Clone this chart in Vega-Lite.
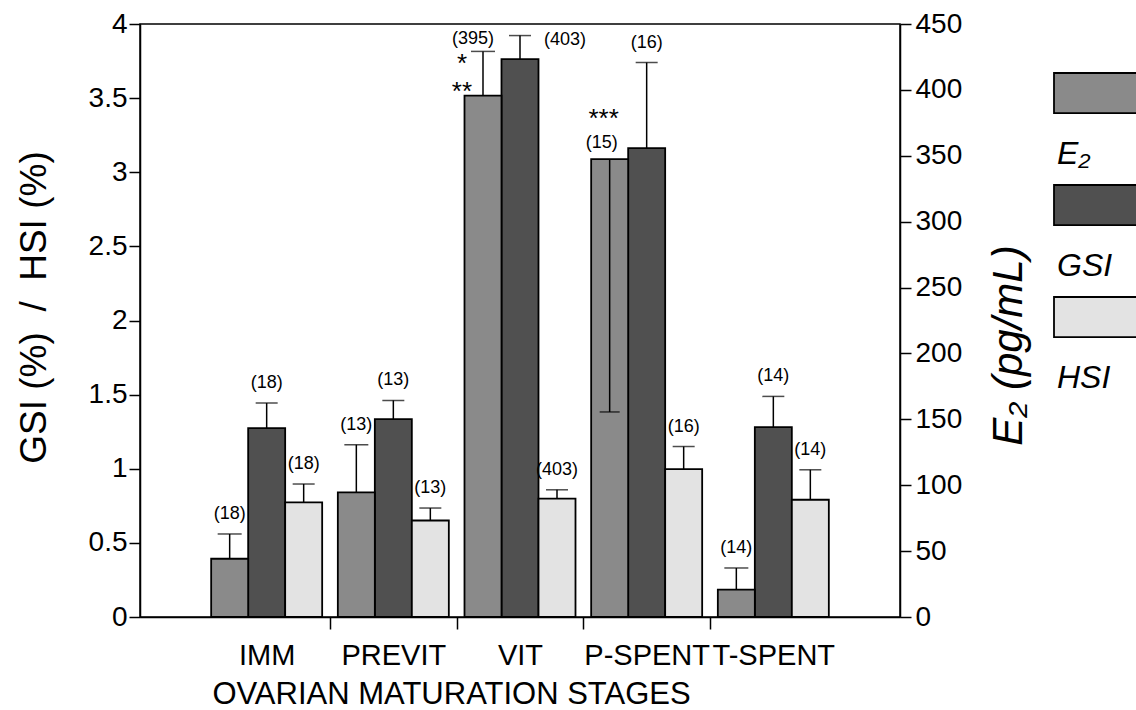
{
  "$schema": "https://vega.github.io/schema/vega-lite/v6.json",
  "width": 760,
  "height": 593,
  "autosize": {"type": "none"},
  "padding": {"left": 140, "top": 24, "right": 236, "bottom": 93},
  "background": "white",
  "config": {
    "view": {"stroke": "black", "strokeWidth": 1.5},
    "font": "Liberation Sans",
    "axis": {"domainColor": "black", "domainWidth": 1.5, "tickColor": "black", "tickWidth": 1.5, "labelColor": "black", "titleColor": "black", "grid": false, "labelFontSize": 28, "titleFontWeight": "normal", "labelFont": "Liberation Sans", "titleFont": "Liberation Sans"}
  },
  "datasets": {
    "bars": [
      {"stage": "IMM", "series": "E₂", "value": 44.2, "hi": 63.0, "lo": null, "n": "(18)"},
      {"stage": "IMM", "series": "GSI", "value": 1.274, "hi": 1.443, "lo": null, "n": "(18)"},
      {"stage": "IMM", "series": "HSI", "value": 0.773, "hi": 0.897, "lo": null, "n": "(18)"},
      {"stage": "PREVIT", "series": "E₂", "value": 94.6, "hi": 130.7, "lo": null, "n": "(13)"},
      {"stage": "PREVIT", "series": "GSI", "value": 1.335, "hi": 1.461, "lo": null, "n": "(13)"},
      {"stage": "PREVIT", "series": "HSI", "value": 0.651, "hi": 0.735, "lo": null, "n": "(13)"},
      {"stage": "VIT", "series": "E₂", "value": 395.6, "hi": 429.2, "lo": null, "n": "(395)"},
      {"stage": "VIT", "series": "GSI", "value": 3.763, "hi": 3.922, "lo": null, "n": "(403)"},
      {"stage": "VIT", "series": "HSI", "value": 0.798, "hi": 0.858, "lo": null, "n": "(403)"},
      {"stage": "P-SPENT", "series": "E₂", "value": 347.5, "hi": null, "lo": 155.6, "n": "(15)"},
      {"stage": "P-SPENT", "series": "GSI", "value": 3.163, "hi": 3.74, "lo": null, "n": "(16)"},
      {"stage": "P-SPENT", "series": "HSI", "value": 0.998, "hi": 1.15, "lo": null, "n": "(16)"},
      {"stage": "T-SPENT", "series": "E₂", "value": 20.7, "hi": 37.2, "lo": null, "n": "(14)"},
      {"stage": "T-SPENT", "series": "GSI", "value": 1.281, "hi": 1.488, "lo": null, "n": "(14)"},
      {"stage": "T-SPENT", "series": "HSI", "value": 0.791, "hi": 0.993, "lo": null, "n": "(14)"}
    ],
    "stars": [
      {"stage": "VIT", "series": "E₂", "level": 424.6, "star": "*"},
      {"stage": "VIT", "series": "E₂", "level": 403.4, "star": "**"},
      {"stage": "P-SPENT", "series": "E₂", "level": 383.0, "star": "***"}
    ]
  },
  "data": {"name": "bars"},
  "encoding": {
    "x": {
      "field": "stage", "type": "nominal",
      "sort": ["IMM", "PREVIT", "VIT", "P-SPENT", "T-SPENT"],
      "scale": {"paddingInner": 0, "paddingOuter": 0.5},
      "axis": {
        "title": "OVARIAN MATURATION STAGES",
        "labelAngle": 0, "labelFontSize": 29, "labelPadding": 12, "labelOverlap": false, "labelLimit": 0,
        "tickSize": 12, "tickOffset": 63.33, "labelOffset": -63.33,
        "tickOpacity": {"condition": {"test": "datum.value === 'T-SPENT'", "value": 0}, "value": 1},
        "titleFontSize": 31, "titleX": 311, "titleY": 86, "titleBaseline": "alphabetic", "titleAlign": "center"
      }
    },
    "xOffset": {
      "field": "series", "type": "nominal",
      "scale": {"domain": ["E₂", "GSI", "HSI"], "paddingInner": 0, "paddingOuter": 0.2117}
    }
  },
  "layer": [
    {
      "transform": [{"filter": "datum.series !== 'E₂'"}],
      "layer": [
        {
          "mark": {"type": "bar", "stroke": "black", "strokeWidth": 1.8},
          "encoding": {
            "y": {
              "field": "value", "type": "quantitative",
              "scale": {"domain": [0, 4], "nice": false},
              "axis": {"orient": "left", "title": "GSI (%)\u00a0\u00a0/\u00a0\u00a0HSI (%)", "values": [0, 0.5, 1, 1.5, 2, 2.5, 3, 3.5, 4], "format": "~g", "tickSize": 11, "labelPadding": 2, "titleFontSize": 37, "titleAngle": -90, "titleX": -106, "titleY": 283, "titleBaseline": "middle", "titleAlign": "center"}
            },
            "fill": {
              "field": "series", "type": "nominal",
              "scale": {"domain": ["E₂", "GSI", "HSI"], "range": ["#8a8a8a", "#505050", "#e3e3e3"]},
              "legend": {
                "orient": "none", "legendX": 913, "legendY": 84, "title": null,
                "symbolType": "M-1,-1.8L1,-1.8L1,-0.91L-1,-0.91Z", "symbolSize": 8100,
                "symbolStrokeColor": "black", "symbolStrokeWidth": 1.8,
                "labelFontSize": 32, "labelFontStyle": "italic", "labelOffset": -88,
                "rowPadding": 11, "labelLimit": 0, "labelColor": "black", "padding": 0
              }
            }
          }
        },
        {
          "mark": {"type": "rule", "strokeWidth": 1.5, "color": "black"},
          "encoding": {
            "y": {"field": "value", "type": "quantitative", "scale": {"domain": [0, 4], "nice": false},
              "axis": {"orient": "left", "title": "GSI (%)\u00a0\u00a0/\u00a0\u00a0HSI (%)", "values": [0, 0.5, 1, 1.5, 2, 2.5, 3, 3.5, 4], "format": "~g", "tickSize": 11, "labelPadding": 2, "titleFontSize": 37, "titleAngle": -90, "titleX": -106, "titleY": 283, "titleBaseline": "middle", "titleAlign": "center"}},
            "y2": {"field": "hi"}
          }
        },
        {
          "mark": {"type": "tick", "color": "black", "thickness": 1.5, "size": 22, "orient": "horizontal"},
          "encoding": {
            "y": {"field": "hi", "type": "quantitative", "scale": {"domain": [0, 4], "nice": false},
              "axis": {"orient": "left", "title": "GSI (%)\u00a0\u00a0/\u00a0\u00a0HSI (%)", "values": [0, 0.5, 1, 1.5, 2, 2.5, 3, 3.5, 4], "format": "~g", "tickSize": 11, "labelPadding": 2, "titleFontSize": 37, "titleAngle": -90, "titleX": -106, "titleY": 283, "titleBaseline": "middle", "titleAlign": "center"}}
          }
        },
        {
          "transform": [{"filter": "!(datum.stage === 'VIT' && datum.series === 'GSI')"}],
          "mark": {"type": "text", "fontSize": 18, "dy": -20, "color": "black", "baseline": "middle"},
          "encoding": {
            "y": {"field": "hi", "type": "quantitative", "scale": {"domain": [0, 4], "nice": false},
              "axis": {"orient": "left", "title": "GSI (%)\u00a0\u00a0/\u00a0\u00a0HSI (%)", "values": [0, 0.5, 1, 1.5, 2, 2.5, 3, 3.5, 4], "format": "~g", "tickSize": 11, "labelPadding": 2, "titleFontSize": 37, "titleAngle": -90, "titleX": -106, "titleY": 283, "titleBaseline": "middle", "titleAlign": "center"}},
            "text": {"field": "n"}
          }
        },
        {
          "transform": [{"filter": "datum.stage === 'VIT' && datum.series === 'GSI'"}],
          "mark": {"type": "text", "fontSize": 18, "dx": 45, "dy": 4, "color": "black", "baseline": "middle"},
          "encoding": {
            "y": {"field": "hi", "type": "quantitative", "scale": {"domain": [0, 4], "nice": false},
              "axis": {"orient": "left", "title": "GSI (%)\u00a0\u00a0/\u00a0\u00a0HSI (%)", "values": [0, 0.5, 1, 1.5, 2, 2.5, 3, 3.5, 4], "format": "~g", "tickSize": 11, "labelPadding": 2, "titleFontSize": 37, "titleAngle": -90, "titleX": -106, "titleY": 283, "titleBaseline": "middle", "titleAlign": "center"}},
            "text": {"field": "n"}
          }
        }
      ]
    },
    {
      "transform": [{"filter": "datum.series === 'E₂'"}],
      "layer": [
        {
          "mark": {"type": "bar", "stroke": "black", "strokeWidth": 1.8},
          "encoding": {
            "y": {
              "field": "value", "type": "quantitative",
              "scale": {"domain": [0, 450], "nice": false},
              "axis": {"orient": "right", "title": "E₂ (pg/mL)", "values": [0, 50, 100, 150, 200, 250, 300, 350, 400, 450], "tickSize": 11, "labelPadding": 4, "titleFontSize": 42, "titleFontStyle": "italic", "titleAngle": -90, "titleX": 108, "titleY": 321, "titleBaseline": "middle", "titleAlign": "center"}
            },
            "fill": {
              "field": "series", "type": "nominal",
              "scale": {"domain": ["E₂", "GSI", "HSI"], "range": ["#8a8a8a", "#505050", "#e3e3e3"]}
            }
          }
        },
        {
          "transform": [{"filter": "datum.hi != null"}],
          "mark": {"type": "rule", "strokeWidth": 1.5, "color": "black"},
          "encoding": {
            "y": {"field": "value", "type": "quantitative", "scale": {"domain": [0, 450], "nice": false},
              "axis": {"orient": "right", "title": "E₂ (pg/mL)", "values": [0, 50, 100, 150, 200, 250, 300, 350, 400, 450], "tickSize": 11, "labelPadding": 4, "titleFontSize": 42, "titleFontStyle": "italic", "titleAngle": -90, "titleX": 108, "titleY": 321, "titleBaseline": "middle", "titleAlign": "center"}},
            "y2": {"field": "hi"}
          }
        },
        {
          "transform": [{"filter": "datum.lo != null"}],
          "mark": {"type": "rule", "strokeWidth": 1.5, "color": "black"},
          "encoding": {
            "y": {"field": "value", "type": "quantitative", "scale": {"domain": [0, 450], "nice": false},
              "axis": {"orient": "right", "title": "E₂ (pg/mL)", "values": [0, 50, 100, 150, 200, 250, 300, 350, 400, 450], "tickSize": 11, "labelPadding": 4, "titleFontSize": 42, "titleFontStyle": "italic", "titleAngle": -90, "titleX": 108, "titleY": 321, "titleBaseline": "middle", "titleAlign": "center"}},
            "y2": {"field": "lo"}
          }
        },
        {
          "transform": [{"filter": "datum.hi != null"}],
          "mark": {"type": "tick", "color": "black", "thickness": 1.5, "size": 24, "orient": "horizontal"},
          "encoding": {
            "y": {"field": "hi", "type": "quantitative", "scale": {"domain": [0, 450], "nice": false},
              "axis": {"orient": "right", "title": "E₂ (pg/mL)", "values": [0, 50, 100, 150, 200, 250, 300, 350, 400, 450], "tickSize": 11, "labelPadding": 4, "titleFontSize": 42, "titleFontStyle": "italic", "titleAngle": -90, "titleX": 108, "titleY": 321, "titleBaseline": "middle", "titleAlign": "center"}}
          }
        },
        {
          "transform": [{"filter": "datum.lo != null"}],
          "mark": {"type": "tick", "color": "black", "thickness": 1.5, "size": 20, "orient": "horizontal"},
          "encoding": {
            "y": {"field": "lo", "type": "quantitative", "scale": {"domain": [0, 450], "nice": false},
              "axis": {"orient": "right", "title": "E₂ (pg/mL)", "values": [0, 50, 100, 150, 200, 250, 300, 350, 400, 450], "tickSize": 11, "labelPadding": 4, "titleFontSize": 42, "titleFontStyle": "italic", "titleAngle": -90, "titleX": 108, "titleY": 321, "titleBaseline": "middle", "titleAlign": "center"}}
          }
        },
        {
          "transform": [{"filter": "datum.hi != null && datum.stage !== 'VIT'"}],
          "mark": {"type": "text", "fontSize": 18, "dy": -20, "color": "black", "baseline": "middle"},
          "encoding": {
            "y": {"field": "hi", "type": "quantitative", "scale": {"domain": [0, 450], "nice": false},
              "axis": {"orient": "right", "title": "E₂ (pg/mL)", "values": [0, 50, 100, 150, 200, 250, 300, 350, 400, 450], "tickSize": 11, "labelPadding": 4, "titleFontSize": 42, "titleFontStyle": "italic", "titleAngle": -90, "titleX": 108, "titleY": 321, "titleBaseline": "middle", "titleAlign": "center"}},
            "text": {"field": "n"}
          }
        },
        {
          "transform": [{"filter": "datum.stage === 'VIT'"}],
          "mark": {"type": "text", "fontSize": 18, "dx": -10, "dy": -12, "color": "black", "baseline": "middle"},
          "encoding": {
            "y": {"field": "hi", "type": "quantitative", "scale": {"domain": [0, 450], "nice": false},
              "axis": {"orient": "right", "title": "E₂ (pg/mL)", "values": [0, 50, 100, 150, 200, 250, 300, 350, 400, 450], "tickSize": 11, "labelPadding": 4, "titleFontSize": 42, "titleFontStyle": "italic", "titleAngle": -90, "titleX": 108, "titleY": 321, "titleBaseline": "middle", "titleAlign": "center"}},
            "text": {"field": "n"}
          }
        },
        {
          "transform": [{"filter": "datum.hi == null"}],
          "mark": {"type": "text", "fontSize": 18, "dx": -8, "dy": -16, "color": "black", "baseline": "middle"},
          "encoding": {
            "y": {"field": "value", "type": "quantitative", "scale": {"domain": [0, 450], "nice": false},
              "axis": {"orient": "right", "title": "E₂ (pg/mL)", "values": [0, 50, 100, 150, 200, 250, 300, 350, 400, 450], "tickSize": 11, "labelPadding": 4, "titleFontSize": 42, "titleFontStyle": "italic", "titleAngle": -90, "titleX": 108, "titleY": 321, "titleBaseline": "middle", "titleAlign": "center"}},
            "text": {"field": "n"}
          }
        },
        {
          "data": {"name": "stars"},
          "transform": [{"filter": "datum.stage === 'VIT'"}],
          "mark": {"type": "text", "fontSize": 26, "dx": -21, "dy": 15, "color": "black", "baseline": "alphabetic"},
          "encoding": {
            "y": {"field": "level", "type": "quantitative", "scale": {"domain": [0, 450], "nice": false},
              "axis": {"orient": "right", "title": "E₂ (pg/mL)", "values": [0, 50, 100, 150, 200, 250, 300, 350, 400, 450], "tickSize": 11, "labelPadding": 4, "titleFontSize": 42, "titleFontStyle": "italic", "titleAngle": -90, "titleX": 108, "titleY": 321, "titleBaseline": "middle", "titleAlign": "center"}},
            "text": {"field": "star"}
          }
        },
        {
          "data": {"name": "stars"},
          "transform": [{"filter": "datum.stage === 'P-SPENT'"}],
          "mark": {"type": "text", "fontSize": 26, "dx": -6, "dy": 15, "color": "black", "baseline": "alphabetic"},
          "encoding": {
            "y": {"field": "level", "type": "quantitative", "scale": {"domain": [0, 450], "nice": false},
              "axis": {"orient": "right", "title": "E₂ (pg/mL)", "values": [0, 50, 100, 150, 200, 250, 300, 350, 400, 450], "tickSize": 11, "labelPadding": 4, "titleFontSize": 42, "titleFontStyle": "italic", "titleAngle": -90, "titleX": 108, "titleY": 321, "titleBaseline": "middle", "titleAlign": "center"}},
            "text": {"field": "star"}
          }
        }
      ]
    }
  ],
  "resolve": {"scale": {"y": "independent"}, "axis": {"y": "independent"}}
}
